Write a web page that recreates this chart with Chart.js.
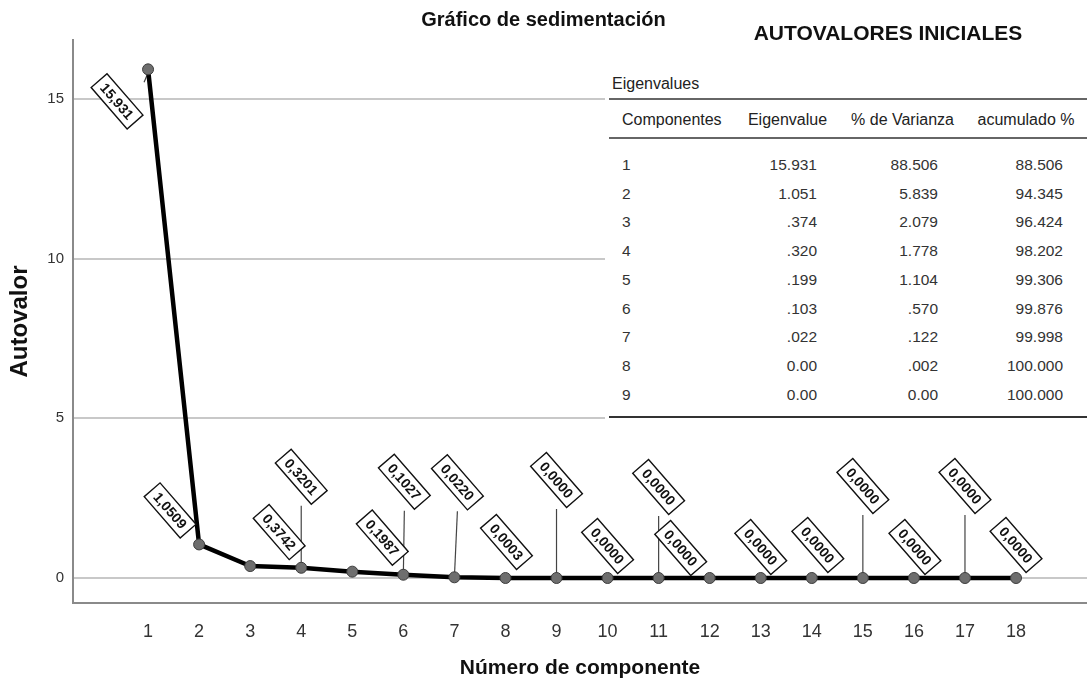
<!DOCTYPE html>
<html>
<head>
<meta charset="utf-8">
<script src="https://cdn.jsdelivr.net/npm/chart.js@4.4.0/dist/chart.umd.min.js"></script>
<style>
  body { margin: 0; background: #fff; font-family: 'Liberation Sans', Arial, sans-serif; }
  #wrap { position: relative; width: 1087px; height: 688px; }
  #sideTitle {
    position: absolute; left: 888px; top: 21px; transform: translateX(-50%);
    font-size: 21px; line-height: 24px; font-weight: bold; color: #111; white-space: nowrap;
  }
  #eigenBox {
    position: absolute; left: 605px; top: 72px; width: 482px; height: 350px; background: #fff;
  }
  #eigenBox .caption {
    position: absolute; left: 7px; top: 3px; font-size: 16px; line-height: 18px; color: #222;
  }
  #eigenTable {
    position: absolute; left: 4px; top: 26px; width: 478px;
    border-collapse: collapse; table-layout: fixed;
  }
  #eigenTable thead tr { border-top: 2px solid #666; border-bottom: 2px solid #666; }
  #eigenTable th {
    height: 35px; padding: 2px 0 0 0; font-size: 16px; font-weight: normal; color: #222;
    text-align: center; vertical-align: middle; white-space: nowrap;
  }
  #eigenTable td {
    height: 28.7px; padding: 0; font-size: 15.5px; line-height: 28.7px; color: #333; text-align: right;
  }
  #eigenTable tbody tr:first-child td { padding-top: 12px; }
  #eigenTable tbody tr:last-child td { padding-bottom: 7px; }
  #eigenTable tbody { border-bottom: 2px solid #333; }
  #eigenTable .c1 { text-align: left; padding-left: 13px; }
  #eigenTable td.c2 { padding-right: 23px; }
  #eigenTable td.c3 { padding-right: 27px; }
  #eigenTable td.c4 { padding-right: 24px; }
</style>
</head>
<body>
<div id="wrap">
  <canvas id="screeChart" width="1087" height="688"></canvas>
  <div id="sideTitle">AUTOVALORES INICIALES</div>
  <div id="eigenBox">
    <div class="caption">Eigenvalues</div>
    <table id="eigenTable">
      <colgroup><col style="width:126px"><col style="width:105px"><col style="width:125px"><col style="width:122px"></colgroup>
      <thead><tr id="eigenHead"></tr></thead>
      <tbody id="eigenBody"></tbody>
    </table>
  </div>
</div>
<script>
// scree plot data
const components = [1, 2, 3, 4, 5, 6, 7, 8, 9, 10, 11, 12, 13, 14, 15, 16, 17, 18];
const eigenvalues = [15.931, 1.0509, 0.3742, 0.3201, 0.1987, 0.1027, 0.0220, 0.0003, 0, 0, 0, 0, 0, 0, 0, 0, 0, 0];
const pointLabels = ['15,931', '1,0509', '0,3742', '0,3201', '0,1987', '0,1027', '0,0220', '0,0003',
    '0,0000', '0,0000', '0,0000', '0,0000', '0,0000', '0,0000', '0,0000', '0,0000', '0,0000', '0,0000'];
const yTicks = [0, 5, 10, 15];

// table data
const tableHeaders = ['Componentes', 'Eigenvalue', '% de Varianza', 'acumulado %'];
const tableComponents = ['1', '2', '3', '4', '5', '6', '7', '8', '9'];
const tableEigen = ['15.931', '1.051', '.374', '.320', '.199', '.103', '.022', '0.00', '0.00'];
const tableVariance = ['88.506', '5.839', '2.079', '1.778', '1.104', '.570', '.122', '.002', '0.00'];
const tableCumulative = ['88.506', '94.345', '96.424', '98.202', '99.306', '99.876', '99.998', '100.000', '100.000'];

// label box placement relative to its point (pixels), and leader line type
const labelOffsets = [[-31, 32], [-29, -34], [29, -34], [0, -91], [30, -34], [1, -93], [3, -95], [1, -36],
    [0, -98], [0, -32], [0, -91], [-29, -30], [0, -31], [6, -33], [0, -92], [1, -31], [0, -92], [0, -33]];
const labelLeaders = ['short', null, null, 'long', null, 'long', 'long', null,
    'long', null, 'long', null, null, null, 'long', null, 'long', null];

// build the table
const head = document.getElementById('eigenHead');
tableHeaders.forEach((h, i) => {
    const th = document.createElement('th');
    th.className = 'c' + (i + 1);
    th.textContent = h;
    head.appendChild(th);
});
const body = document.getElementById('eigenBody');
tableComponents.forEach((c, i) => {
    const tr = document.createElement('tr');
    [c, tableEigen[i], tableVariance[i], tableCumulative[i]].forEach((v, j) => {
        const td = document.createElement('td');
        td.className = 'c' + (j + 1);
        td.textContent = v;
        tr.appendChild(td);
    });
    body.appendChild(tr);
});

const FONT = "'Liberation Sans', Arial, sans-serif";
const LABEL_ANGLE = 49 * Math.PI / 180;

const labelPlugin = {
    id: 'labelPlugin',
    beforeDatasetsDraw(chart) {
        const ctx = chart.ctx;
        const meta = chart.getDatasetMeta(0);
        ctx.save();
        ctx.strokeStyle = '#444';
        ctx.lineWidth = 1.2;
        meta.data.forEach((pt, i) => {
            const [dx, dy] = labelOffsets[i];
            ctx.beginPath();
            if (labelLeaders[i] === 'long') {
                ctx.moveTo(pt.x, pt.y);
                ctx.lineTo(pt.x + dx, pt.y + dy + 29);
            } else if (labelLeaders[i] === 'short') {
                ctx.moveTo(pt.x - 1, pt.y + 6);
                ctx.lineTo(pt.x - 4, pt.y + 13);
            }
            ctx.stroke();
        });
        ctx.restore();
    },
    afterDatasetsDraw(chart) {
        const ctx = chart.ctx;
        const meta = chart.getDatasetMeta(0);
        ctx.save();
        ctx.font = 'bold 14px ' + FONT;
        meta.data.forEach((pt, i) => {
            const [dx, dy] = labelOffsets[i];
            const text = pointLabels[i];
            const w = ctx.measureText(text).width + 12;
            const h = 21;
            ctx.save();
            ctx.translate(pt.x + dx, pt.y + dy);
            ctx.rotate(LABEL_ANGLE);
            ctx.fillStyle = '#fff';
            ctx.fillRect(-w / 2, -h / 2, w, h);
            ctx.strokeStyle = '#111';
            ctx.lineWidth = 1.4;
            ctx.strokeRect(-w / 2, -h / 2, w, h);
            ctx.fillStyle = '#111';
            ctx.textAlign = 'center';
            ctx.textBaseline = 'middle';
            ctx.fillText(text, 0, 1);
            ctx.restore();
        });
        ctx.restore();
    }
};

const ctx = document.getElementById('screeChart');
const screeChart = new Chart(ctx, {
    type: 'line',
    data: {
        datasets: [{
            data: components.map((c, i) => ({x: c, y: eigenvalues[i]})),
            borderColor: '#000',
            borderWidth: 4.5,
            borderJoinStyle: 'round',
            tension: 0,
            pointRadius: 5.5,
            pointBackgroundColor: '#6e6e6e',
            pointBorderColor: '#3c3c3c',
            pointBorderWidth: 1
        }]
    },
    options: {
        responsive: false,
        animation: false,
        devicePixelRatio: 1,
        layout: { padding: 0, autoPadding: false },
        plugins: {
            legend: { display: false },
            tooltip: { enabled: false },
            title: {
                display: true,
                text: 'Gráfico de sedimentación',
                color: '#111',
                font: { family: FONT, size: 20, weight: 'bold' },
                padding: { top: 8, bottom: 8 }
            }
        },
        scales: {
            x: {
                type: 'linear',
                min: -0.47,
                max: 19.39,
                afterFit(scale) { scale.height = 85; },
                afterBuildTicks(scale) { scale.ticks = components.map(v => ({value: v})); },
                ticks: {
                    autoSkip: false,
                    maxRotation: 0,
                    padding: 18,
                    color: '#333',
                    font: { family: FONT, size: 18 }
                },
                grid: { display: false, drawTicks: false },
                border: { display: true, color: '#8a8a8a', width: 2 },
                title: {
                    display: true,
                    text: 'Número de componente',
                    color: '#111',
                    font: { family: FONT, size: 21, weight: 'bold' },
                    padding: { top: 0, bottom: 7 }
                }
            },
            y: {
                min: -0.783,
                max: 16.85,
                afterFit(scale) { scale.width = 73; },
                afterBuildTicks(scale) { scale.ticks = yTicks.map(v => ({value: v})); },
                ticks: {
                    padding: 9,
                    color: '#333',
                    font: { family: FONT, size: 15 }
                },
                grid: { color: '#c8c8c8', lineWidth: 2, drawTicks: false },
                border: { display: true, color: '#8a8a8a', width: 2 },
                title: {
                    display: true,
                    text: 'Autovalor',
                    color: '#111',
                    font: { family: FONT, size: 24, weight: 'bold' },
                    padding: { top: 6, bottom: 0 }
                }
            }
        }
    },
    plugins: [labelPlugin]
});
</script>
</body>
</html>
